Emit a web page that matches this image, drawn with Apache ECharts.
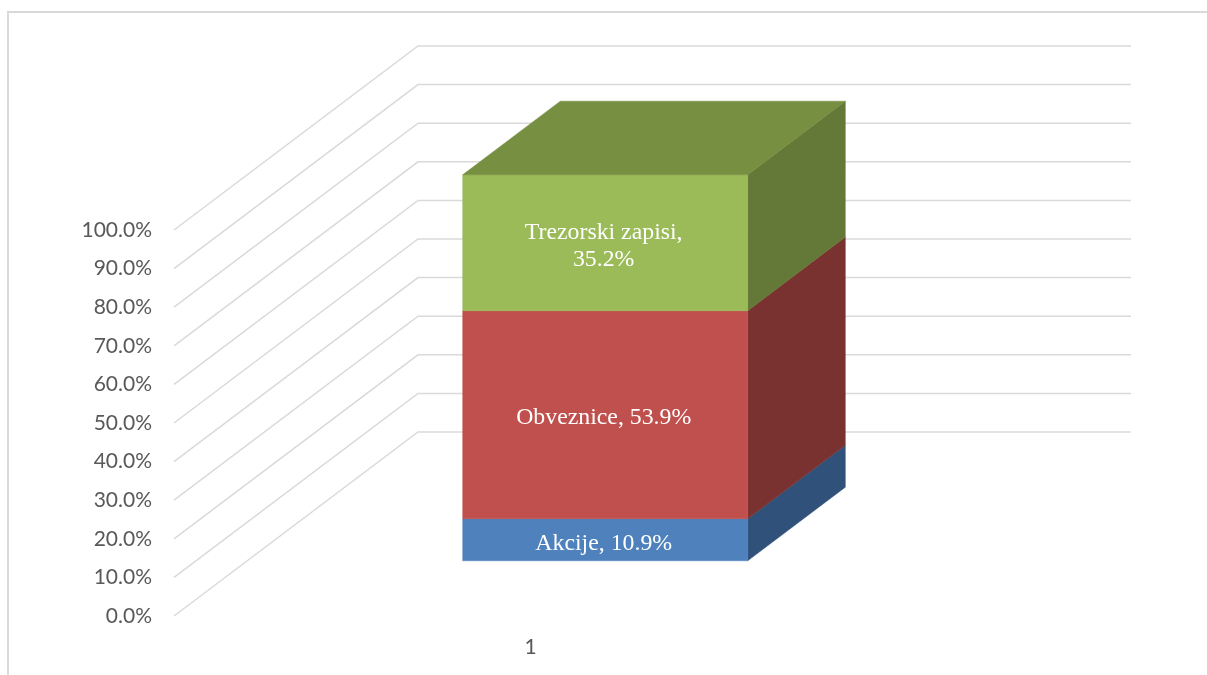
<!DOCTYPE html>
<html>
<head>
<meta charset="utf-8">
<title>Chart</title>
<script src="https://cdn.jsdelivr.net/npm/echarts@6/dist/echarts.min.js"></script>
<style>
html, body { margin: 0; padding: 0; background: #fff; }
#chart { width: 1207px; height: 675px; }
</style>
</head>
<body>
<div id="chart"></div>
<script>
var categories = ['1'];
var seriesNames = ['Akcije', 'Obveznice', 'Trezorski zapisi'];
var seriesValues = [10.9, 53.9, 35.2];
var dataLabels = ['Akcije, 10.9%', 'Obveznice, 53.9%', 'Trezorski zapisi,\n35.2%'];
var gridTicks = [0, 10, 20, 30, 40, 50, 60, 70, 80, 90, 100];

var frontColors = ['#4f81bd', '#c0504d', '#9bbb59'];
var sideColors = ['#30527a', '#7a3230', '#647837'];
var topColor = '#768f41';

// fake 3d: the back wall sits this far from the axis plane
var depthX = 244;
var depthY = -184;
var barFront = 0.3;
var barBack = 0.7;
var barHalf = 143;

var chart = echarts.init(document.getElementById('chart'));

function poly(points, color) {
    return {
        type: 'polygon',
        shape: { points: points },
        style: { fill: color, stroke: color, lineWidth: 0.5 }
    };
}

function renderGridLine(params, api) {
    var sys = params.coordSys;
    var y = api.coord([0, api.value(0)])[1];
    return {
        type: 'polyline',
        shape: {
            points: [
                [sys.x, y],
                [sys.x + depthX, y + depthY],
                [sys.x + sys.width + depthX, y + depthY]
            ]
        },
        style: { fill: null, stroke: '#dadada', lineWidth: 1.5 }
    };
}

function makeBarRenderer(idx) {
    return function (params, api) {
        var low = api.coord([0, api.value(1)]);
        var high = api.coord([0, api.value(2)]);
        var fx = barFront * depthX, fy = barFront * depthY;
        var bx = barBack * depthX, by = barBack * depthY;
        var left = low[0] + fx - barHalf + 2;
        var right = low[0] + fx + barHalf + 1;
        var backRight = low[0] + bx + barHalf + 1;
        var y0 = low[1] + fy, y1 = high[1] + fy;
        var yb0 = low[1] + by, yb1 = high[1] + by;
        var children = [
            poly([[right, y0], [backRight, yb0], [backRight, yb1], [right, y1]], sideColors[idx]),
            poly([[left, y0], [right, y0], [right, y1], [left, y1]], frontColors[idx])
        ];
        if (idx === seriesValues.length - 1) {
            children.push(poly([[left, y1], [right, y1], [backRight, yb1], [left + bx - fx, yb1]], topColor));
        }
        children.push({
            type: 'text',
            style: {
                x: (left + right) / 2 - 1.5,
                y: (y0 + y1) / 2 + 3.5,
                text: dataLabels[idx],
                fill: '#ffffff',
                font: '23.8px "Liberation Serif", serif',
                lineHeight: 27,
                align: 'center',
                verticalAlign: 'middle'
            }
        });
        return { type: 'group', children: children };
    };
}

var series = [{
    name: 'grid',
    type: 'custom',
    silent: true,
    clip: false,
    z: 1,
    encode: { y: 0 },
    data: gridTicks.map(function (t) { return [t]; }),
    renderItem: renderGridLine
}];

var stackBase = 0;
seriesValues.forEach(function (v, i) {
    series.push({
        name: seriesNames[i],
        type: 'custom',
        clip: false,
        silent: true,
        z: 2 + i,
        encode: { y: [1, 2] },
        data: [[categories[0], stackBase, stackBase + v]],
        renderItem: makeBarRenderer(i)
    });
    stackBase += v;
});

chart.setOption({
    animation: false,
    backgroundColor: '#ffffff',
    grid: { left: 174, top: 230, width: 713, height: 386, containLabel: false },
    xAxis: {
        type: 'category',
        data: categories,
        axisLine: { show: false },
        axisTick: { show: false },
        splitLine: { show: false },
        axisLabel: {
            margin: 21,
            color: '#595959',
            fontFamily: 'Lato, "Open Sans", sans-serif',
            fontSize: 21
        }
    },
    yAxis: {
        type: 'value',
        min: 0,
        max: 100,
        interval: 10,
        axisLine: { show: false },
        axisTick: { show: false },
        splitLine: { show: false },
        axisLabel: {
            margin: 22,
            color: '#595959',
            fontFamily: 'Lato, "Open Sans", sans-serif',
            fontSize: 21,
            padding: [6, 0, 0, 0],
            formatter: function (v) { return v.toFixed(1) + '%'; }
        }
    },
    graphic: [{
        type: 'polyline',
        silent: true,
        shape: { points: [[8, 675], [8, 12], [1207, 12]] },
        style: { fill: null, stroke: '#d9d9d9', lineWidth: 2 }
    }],
    series: series
});
</script>
</body>
</html>
